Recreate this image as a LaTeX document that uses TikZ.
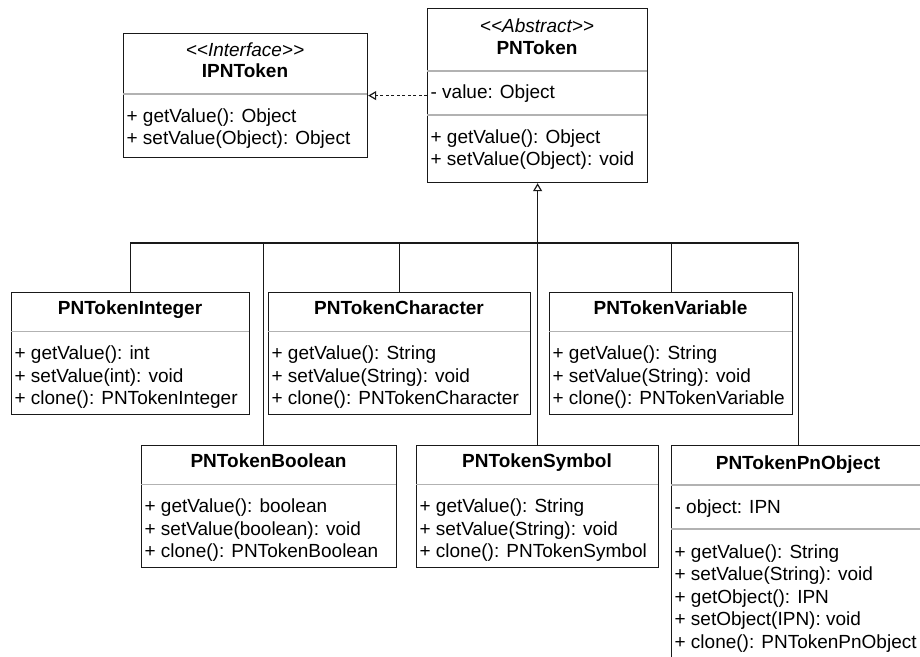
\documentclass[tikz,border=0pt]{standalone}
\usepackage{fontspec}
\setmainfont{Liberation Sans}
\usetikzlibrary{arrows.meta}

\begin{document}
\begin{tikzpicture}[x=1pt, y=-1pt, line width=1.2pt,
  font=\fontsize{19}{22}\selectfont,
  classbox/.style={draw=black!90, anchor=north west, inner sep=0pt},
  sep/.style={draw=black!30},
  title/.style={anchor=base, inner sep=0pt, font=\fontsize{19}{22}\selectfont\bfseries},
  stereo/.style={anchor=base, inner sep=0pt, font=\fontsize{19}{22}\selectfont\itshape},
  member/.style={anchor=base west, inner sep=0pt},
  gen/.style={draw=black!90}]

  % Picture frame
  \clip (0,0) rectangle (920,656);

  % Interface IPNToken
  \node[classbox, minimum width=244pt, minimum height=124pt] (ipntok) at (123,33) {};
  \draw[sep] (123,94) -- ++(244,0);
  \node[stereo] (ipntok-st) at (245,56) {<\kern0pt<Interface>\kern0pt>};
  \node[title] (ipntok-title) at (245,77) {IPNToken};
  \foreach \y/\txt [count=\i] in {122/{+ getValue(): Object}, 144/{+ setValue(Object): Object}}
    \node[member] (ipntok-\i) at (126,\y) {\txt};

  % Abstract class PNToken
  \node[classbox, minimum width=220pt, minimum height=174pt] (pntok) at (427,8) {};
  \draw[sep] (427,71) -- ++(220,0);
  \draw[sep] (427,115) -- ++(220,0);
  \node[stereo] (pntok-st) at (537,32) {<\kern0pt<Abstract>\kern0pt>};
  \node[title] (pntok-title) at (537,54) {PNToken};
  \node[member] (pntok-attr) at (430,98) {- value: Object};
  \foreach \y/\txt [count=\i] in {143/{+ getValue(): Object}, 165/{+ setValue(Object): void}}
    \node[member] (pntok-\i) at (430,\y) {\txt};

  % Subclasses with the same three methods
  \foreach \nm/\x/\y/\w/\ttl/\ty in {
      pnint/11/292/238/Integer/int,
      pnchar/268/292/262/Character/String,
      pnvar/549/292/243/Variable/String,
      pnbool/141/445/255/Boolean/boolean,
      pnsym/416/445/242/Symbol/String} {
    \node[classbox, minimum width={\w pt}, minimum height=122pt] (\nm) at (\x,\y) {};
    \draw[sep] (\x,\y+39.5) -- ++(\w,0);
    \node[title] (\nm-title) at (\x+\w/2,\y+22) {PNToken\ttl};
    \node[member] (\nm-1) at (\x+3,\y+67) {+ getValue(): \ty};
    \node[member] (\nm-2) at (\x+3,\y+90) {+ setValue(\ty): void};
    \node[member] (\nm-3) at (\x+3,\y+112.5) {+ clone(): PNToken\ttl};
  }

  % PNTokenPnObject (runs past the frame)
  \node[classbox, minimum width=254pt, minimum height=230pt] (pnobj) at (671,445) {};
  \draw[sep] (671,485) -- ++(254,0);
  \draw[sep] (671,529) -- ++(254,0);
  \node[title] (pnobj-title) at (798,469) {PNTokenPnObject};
  \node[member] (pnobj-attr) at (674,513) {- object: IPN};
  \foreach \y/\txt [count=\i] in {558/{+ getValue(): String}, 580/{+ setValue(String): void},
      603/{+ getObject(): IPN}, 625/{+ setObject(IPN): void}, 648/{+ clone(): PNTokenPnObject}}
    \node[member] (pnobj-\i) at (674,\y) {\txt};

  % Realization
  \draw[gen, dash pattern=on 3pt off 2.5pt, -{Triangle[open, length=8pt, width=9pt]}] (pntok.west) -- (ipntok.east);

  % Generalization tree
  \coordinate (bus) at (537,243);
  \foreach \nm in {pnint, pnchar, pnvar, pnobj}
    \draw[gen] (\nm.north) |- (bus);
  \draw[gen] ([xshift=-5.5pt]pnbool.north) |- (bus);
  \draw[gen, -{Triangle[open, length=8pt, width=9pt]}] (pnsym.north) -- (pntok.south);

\end{tikzpicture}
\end{document}
